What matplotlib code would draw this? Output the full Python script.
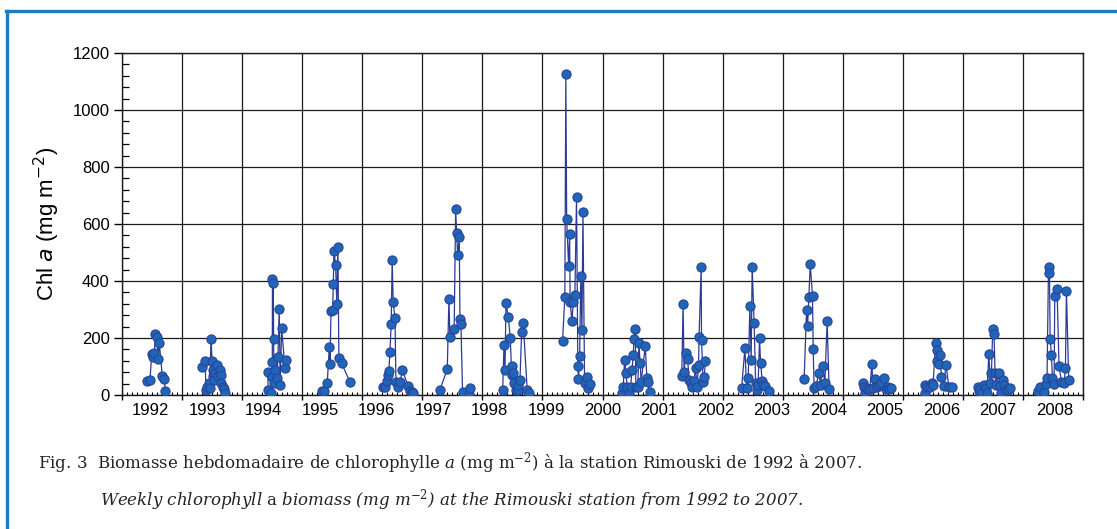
import matplotlib.pyplot as plt
from matplotlib.lines import Line2D
from matplotlib.ticker import MultipleLocator

# Sampling seasons, one per year (day of year, Chl a in mg m-2)
years = list(range(1992, 2008))

doy = [
    [148, 168, 179, 187, 195, 201, 213, 217, 225, 243, 255, 261],
    [122, 138, 144, 152, 160, 168, 174, 181, 185, 188, 195, 201, 213, 219, 229, 233, 237, 246, 253, 261],
    [154, 157, 172, 178, 182, 183, 188, 190, 192, 198, 209, 216, 224, 230, 239, 259, 265],
    [121, 133, 151, 164, 168, 174, 184, 188, 192, 202, 209, 216, 222, 239, 289],
    [126, 137, 147, 155, 161, 167, 175, 181, 187, 198, 204, 216, 230, 242, 278, 289, 303, 309],
    [106, 151, 161, 167, 193, 202, 208, 214, 224, 228, 234, 244, 283, 289],
    [123, 131, 137, 143, 157, 169, 178, 181, 187, 193, 204, 214, 218, 228, 238, 248, 272, 283],
    [122, 136, 142, 147, 159, 165, 168, 179, 187, 197, 207, 215, 219, 226, 233, 240, 246, 256, 268, 274, 288],
    [118, 126, 134, 142, 150, 160, 171, 179, 187, 191, 199, 203, 215, 221, 229, 235, 260, 270, 276, 286],
    [117, 125, 131, 142, 152, 162, 172, 182, 190, 201, 209, 219, 222, 235, 237, 247, 253, 261],
    [116, 136, 146, 156, 166, 174, 180, 192, 201, 209, 216, 225, 231, 241, 247, 261, 281],
    [131, 146, 152, 160, 168, 182, 186, 192, 202, 221, 231, 243, 257, 271, 283],
    [125, 131, 139, 145, 155, 165, 178, 185, 200, 212, 220, 232, 252, 261, 273, 283, 297],
    [135, 139, 151, 165, 176, 185, 200, 206, 212, 220, 228, 236, 249, 264, 281, 301],
    [94, 100, 108, 118, 128, 140, 148, 159, 169, 175, 183, 191, 197, 205, 215, 224, 226, 236, 246, 252, 266, 276, 286],
    [94, 104, 128, 140, 148, 157, 163, 167, 175, 181, 191, 195, 209, 221, 236, 252, 260, 266, 280],
]

chl = [
    [50, 53, 144, 132, 146, 214, 205, 125, 181, 67, 57, 15],
    [99, 120, 18, 29, 41, 26, 198, 120, 88, 67, 53, 78, 105, 67, 88, 70, 41, 29, 20, 6],
    [82, 18, 8, 62, 117, 406, 392, 198, 41, 88, 58, 132, 303, 35, 234, 94, 123],
    [15, 15, 41, 170, 109, 296, 297, 388, 506, 456, 320, 518, 129, 111, 46],
    [27, 29, 50, 70, 85, 150, 249, 474, 327, 269, 47, 27, 44, 88, 32, 15, 11, 8],
    [18, 90, 337, 205, 232, 654, 567, 491, 553, 268, 249, 11, 5, 25],
    [18, 174, 88, 323, 273, 201, 70, 102, 78, 41, 18, 18, 35, 53, 220, 252, 18, 8],
    [191, 343, 1125, 617, 452, 566, 327, 259, 327, 350, 695, 102, 55, 136, 419, 228, 643, 43, 64, 23, 39],
    [6, 27, 123, 78, 29, 8, 27, 88, 140, 195, 232, 29, 27, 184, 111, 46, 172, 58, 45, 12],
    [67, 319, 81, 146, 126, 53, 41, 29, 48, 94, 29, 105, 202, 450, 193, 45, 62, 118],
    [26, 164, 23, 58, 312, 123, 450, 252, 41, 18, 35, 199, 113, 50, 35, 32, 15],
    [55, 300, 242, 345, 459, 348, 161, 23, 32, 76, 35, 102, 43, 260, 20],
    [41, 29, 8, 23, 20, 20, 108, 23, 55, 29, 35, 43, 61, 20, 29, 20, 23],
    [8, 35, 27, 29, 43, 35, 181, 158, 120, 108, 140, 64, 32, 105, 29, 29],
    [29, 14, 20, 8, 35, 23, 8, 143, 43, 78, 232, 214, 76, 35, 74, 76, 32, 6, 53, 35, 18, 18, 26],
    [15, 27, 12, 39, 58, 450, 427, 198, 140, 61, 39, 347, 372, 102, 47, 43, 94, 365, 53],
]

# the original figure prints 17 year labels evenly along the 16-year axis
year_labels = [str(y) for y in range(1992, 2009)]

caption_fr = ("Fig. 3  Biomasse hebdomadaire de chlorophylle $\\mathit{a}$ (mg m$^{-2}$) "
              "à la station Rimouski de 1992 à 2007.")
caption_en = ("Weekly chlorophyll $\\mathrm{a}$ biomass (mg m$^{-2}$) "
              "at the Rimouski station from 1992 to 2007.")

plt.rcParams["font.family"] = ["Liberation Sans", "DejaVu Sans"]

fig = plt.figure(figsize=(11.17, 5.29), dpi=100)
ax = fig.add_axes([0.1095, 0.2533, 0.8598, 0.6465])

for yr, d, v in zip(years, doy, chl):
    x = [yr + day / 365.0 for day in d]
    ax.plot(x, v, "-", color="#2b3a94", lw=0.9, zorder=3)
    ax.plot(x, v, "o", ms=6.6, mfc="#1f66b9", mec="#2a4399", mew=0.8, zorder=4)

ax.set_xlim(years[0], years[-1] + 1)
ax.set_ylim(0, 1200)

# grid on every year boundary and every 200 mg
ax.set_xticks(range(years[0], years[-1] + 2))
ax.set_xticklabels([])
ax.xaxis.set_minor_locator(MultipleLocator(1 / 12))
ax.yaxis.set_major_locator(MultipleLocator(200))
ax.yaxis.set_minor_locator(MultipleLocator(40))
ax.grid(True, which="major", color="#1a1a1a", lw=0.9)
ax.set_axisbelow(True)

ax.tick_params(axis="y", which="major", direction="out", length=6, width=1,
               labelsize=12, pad=3)
ax.tick_params(axis="y", which="minor", direction="in", length=5, width=0.9)
ax.tick_params(axis="x", which="major", direction="out", length=3.5, width=1)
ax.tick_params(axis="x", which="minor", direction="in", length=2.5, width=0.8)
for s in ax.spines.values():
    s.set_color("#1a1a1a")
    s.set_linewidth(1)

span = years[-1] + 1 - years[0]
for i, lab in enumerate(year_labels):
    pos = years[0] + (i + 0.5) * span / len(year_labels)
    ax.text(pos, -0.022, lab, transform=ax.get_xaxis_transform(),
            ha="center", va="top", fontsize=12)

ax.set_ylabel("Chl $a$ (mg m$^{-2}$)", fontsize=16, labelpad=8)

# caption below the plot
fig.text(38 / 1117, 1 - 463 / 529, caption_fr, family="DejaVu Serif",
         math_fontfamily="dejavuserif", fontsize=12, color="#222222", va="center")
fig.text(100 / 1117, 1 - 500 / 529, caption_en, family="DejaVu Serif",
         math_fontfamily="dejavuserif", style="italic", fontsize=12,
         color="#222222", va="center")

# blue frame (top and left edges)
fig.add_artist(Line2D([6 / 1117, 1], [1 - 11 / 529, 1 - 11 / 529],
                      transform=fig.transFigure, color="#1a7cc1", lw=2.4))
fig.add_artist(Line2D([7 / 1117, 7 / 1117], [0, 1 - 11 / 529],
                      transform=fig.transFigure, color="#1a7cc1", lw=2.4))

fig.savefig("out.png", dpi=100)
